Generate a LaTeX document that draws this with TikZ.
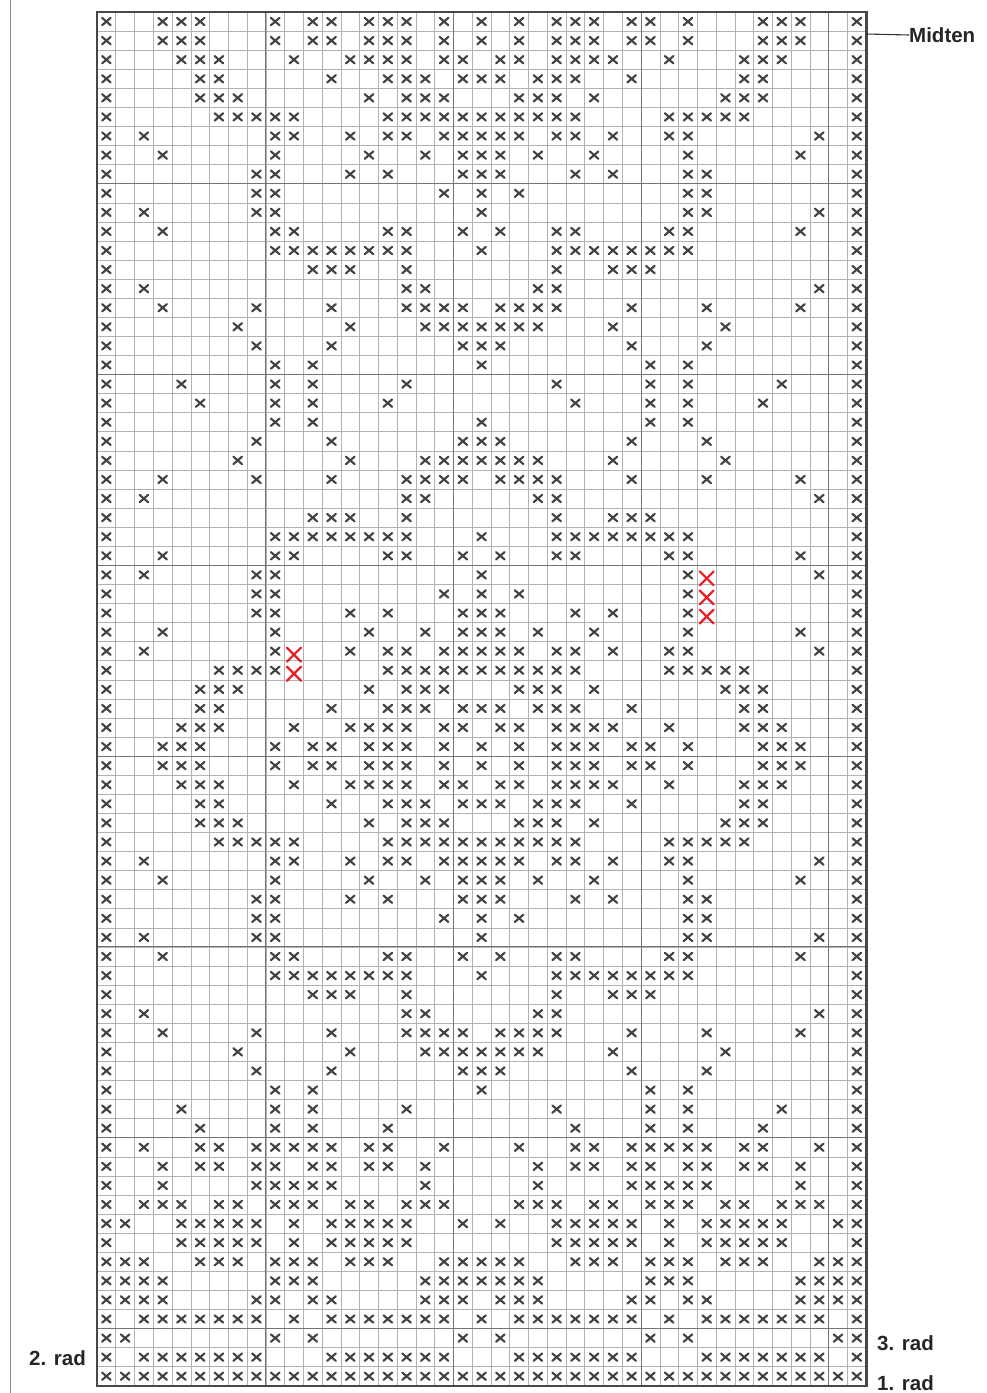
\documentclass[tikz,border=0pt]{standalone}
\usepackage{fontspec}
\setmainfont{Liberation Sans}
\definecolor{xred}{RGB}{232,30,36}
\def\patA{0,3,4,5,9,11,12,14,15,16,18,20,22,24,25,26,28,29,31,35,36,37,40}
\def\patB{0,4,5,6,10,13,14,15,16,18,19,21,22,24,25,26,27,30,34,35,36,40}
\def\patC{0,5,6,12,15,16,17,19,20,21,23,24,25,28,34,35,40}
\def\patD{0,5,6,7,14,16,17,18,22,23,24,26,33,34,35,40}
\def\patE{0,6,7,8,9,10,15,16,17,18,19,20,21,22,23,24,25,30,31,32,33,34,40}
\def\patF{0,2,9,10,13,15,16,18,19,20,21,22,24,25,27,30,31,38,40}
\def\patG{0,3,9,14,17,19,20,21,23,26,31,37,40}
\def\patH{0,8,9,13,15,19,20,21,25,27,31,32,40}
\def\patI{0,8,9,18,20,22,31,32,40}
\def\patJ{0,2,8,9,20,31,32,38,40}
\def\patK{0,3,9,10,15,16,19,21,24,25,30,31,37,40}
\def\patL{0,9,10,11,12,13,14,15,16,20,24,25,26,27,28,29,30,31,40}
\def\patM{0,11,12,13,16,24,27,28,29,40}
\def\patN{0,2,16,17,23,24,38,40}
\def\patO{0,3,8,12,16,17,18,19,21,22,23,24,28,32,37,40}
\def\patP{0,7,13,17,18,19,20,21,22,23,27,33,40}
\def\patQ{0,8,12,19,20,21,28,32,40}
\def\patR{0,9,11,20,29,31,40}
\def\patS{0,4,9,11,16,24,29,31,36,40}
\def\patT{0,5,9,11,15,25,29,31,35,40}
% variants where a red cross replaces a black one
\def\patEr{0,6,7,8,9,15,16,17,18,19,20,21,22,23,24,25,30,31,32,33,34,40}
\def\patFr{0,2,9,13,15,16,18,19,20,21,22,24,25,27,30,31,38,40}
\def\patHr{0,8,9,13,15,19,20,21,25,27,31,40}
\def\patIr{0,8,9,18,20,22,31,40}
\def\patJr{0,2,8,9,20,31,38,40}
% bottom border rows
\def\patU{0,2,5,6,8,9,10,11,12,14,15,18,22,25,26,28,29,30,31,32,34,35,38,40}
\def\patV{0,3,5,6,8,9,11,12,14,15,17,23,25,26,28,29,31,32,34,35,37,40}
\def\patW{0,3,8,9,10,11,12,17,23,28,29,30,31,32,37,40}
\def\patX{0,2,3,4,6,7,9,10,11,13,14,16,17,18,22,23,24,26,27,29,30,31,33,34,36,37,38,40}
\def\patY{0,1,4,5,6,7,8,10,12,13,14,15,16,19,21,24,25,26,27,28,30,32,33,34,35,36,39,40}
\def\patZ{0,4,5,6,7,8,10,12,13,14,15,16,24,25,26,27,28,30,32,33,34,35,36,40}
\def\patAA{0,1,2,5,6,7,9,10,11,13,14,15,18,19,20,21,22,25,26,27,29,30,31,33,34,35,38,39,40}
\def\patAB{0,1,2,3,9,10,11,17,18,19,20,21,22,23,29,30,31,37,38,39,40}
\def\patAC{0,1,2,3,8,9,11,12,17,18,19,21,22,23,28,29,31,32,37,38,39,40}
\def\patAD{0,2,3,4,5,6,7,8,10,12,13,14,15,16,17,18,20,22,23,24,25,26,27,28,30,32,33,34,35,36,37,38,40}
\def\patAE{0,1,9,11,19,21,29,31,39,40}
\def\patAF{0,2,3,4,5,6,7,8,12,13,14,15,16,17,18,22,23,24,25,26,27,28,32,33,34,35,36,37,38,40}
\def\patAG{0,1,...,40}
\newcommand{\xrow}[2]{\foreach \cc in #2 {\pic at ({97+18.76*(\cc+0.5)},{12+19.08*(#1+0.5)}) {stitch};}}
\newcommand{\redx}[2]{\pic at ({97+18.76*(#1+0.5)},{12+19.08*(#2+0.5)+3.5}) {redstitch};}
\tikzset{
  xline/.style={line width=2.1pt, draw=black!74, line cap=round},
  stitch/.pic={\draw[xline] (-4.3,-3.7)--(4.3,3.7) (-4.3,3.7)--(4.3,-3.7);},
  redstitch/.pic={\draw[line width=2.2pt, draw=xred, line cap=round] (-7,-7)--(7,7) (-7,7)--(7,-7);},
  gridline/.style={draw=black!30, line width=0.6pt},
  boldline/.style={draw=black!55, line width=0.9pt},
  chartframe/.style={draw=black!72, line width=2.6pt},
  lab/.style={font=\bfseries\fontsize{20.5}{24}\selectfont, text=black!85, inner sep=0pt, anchor=west},
}
\begin{document}
\begin{tikzpicture}[x=1pt,y=-1pt]
\fill[white] (0,0) rectangle (986,1393);
\useasboundingbox (0,0) rectangle (986,1393);
\draw[black!45, line width=1pt] (10,0) -- (10,1393);
% grid
\foreach \k in {0,...,41} \draw[gridline] ({97+18.76*\k},12) -- ({97+18.76*\k},1385.8);
\foreach \k in {0,...,72} \draw[gridline] (97,{12+19.08*\k}) -- (866.2,{12+19.08*\k});
\foreach \k in {9,19,29,39} \draw[boldline] ({97+18.76*\k},12) -- ({97+18.76*\k},1385.8);
\foreach \k in {9,19,29,39,49,59,69} \draw[boldline] (97,{12+19.08*\k}) -- (866.2,{12+19.08*\k});
\draw[chartframe] (97,12) rectangle (866.2,1385.8);
% stitches
\xrow{0}{\patA}  \xrow{1}{\patA}  \xrow{2}{\patB}  \xrow{3}{\patC}
\xrow{4}{\patD}  \xrow{5}{\patE}  \xrow{6}{\patF}  \xrow{7}{\patG}
\xrow{8}{\patH}  \xrow{9}{\patI}  \xrow{10}{\patJ} \xrow{11}{\patK}
\xrow{12}{\patL} \xrow{13}{\patM} \xrow{14}{\patN} \xrow{15}{\patO}
\xrow{16}{\patP} \xrow{17}{\patQ} \xrow{18}{\patR} \xrow{19}{\patS}
\xrow{20}{\patT} \xrow{21}{\patR} \xrow{22}{\patQ} \xrow{23}{\patP}
\xrow{24}{\patO} \xrow{25}{\patN} \xrow{26}{\patM} \xrow{27}{\patL}
\xrow{28}{\patK} \xrow{29}{\patJr} \xrow{30}{\patIr} \xrow{31}{\patHr}
\xrow{32}{\patG} \xrow{33}{\patFr} \xrow{34}{\patEr} \xrow{35}{\patD}
\xrow{36}{\patC} \xrow{37}{\patB} \xrow{38}{\patA} \xrow{39}{\patA}
\xrow{40}{\patB} \xrow{41}{\patC} \xrow{42}{\patD} \xrow{43}{\patE}
\xrow{44}{\patF} \xrow{45}{\patG} \xrow{46}{\patH} \xrow{47}{\patI}
\xrow{48}{\patJ} \xrow{49}{\patK} \xrow{50}{\patL} \xrow{51}{\patM}
\xrow{52}{\patN} \xrow{53}{\patO} \xrow{54}{\patP} \xrow{55}{\patQ}
\xrow{56}{\patR} \xrow{57}{\patS} \xrow{58}{\patT} \xrow{59}{\patU}
\xrow{60}{\patV} \xrow{61}{\patW} \xrow{62}{\patX} \xrow{63}{\patY}
\xrow{64}{\patZ} \xrow{65}{\patAA} \xrow{66}{\patAB} \xrow{67}{\patAC}
\xrow{68}{\patAD} \xrow{69}{\patAE} \xrow{70}{\patAF} \xrow{71}{\patAG}
% red crosses
\redx{32}{29} \redx{32}{30} \redx{32}{31}
\redx{10}{33} \redx{10}{34}
% labels
\coordinate (mid) at (866.2,34);
\node[lab] (midten) at (909,35) {Midten};
\draw[black!80, line width=1.1pt] (mid) -- (midten.west);
\node[lab] (rad3) at (877,1343) {3. rad};
\node[lab] (rad2) at (29,1358) {2. rad};
\node[lab] (rad1) at (877,1383) {1. rad};
\end{tikzpicture}
\end{document}
